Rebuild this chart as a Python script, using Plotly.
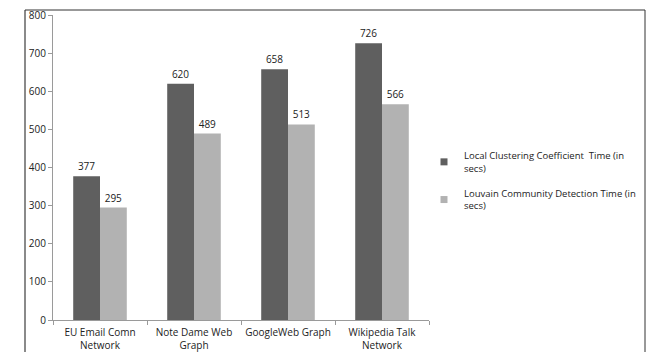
import plotly.graph_objects as go

categories = ["EU Email Comn<br>Network", "Note Dame Web<br>Graph", "GoogleWeb Graph", "Wikipedia Talk<br>Network"]
lcc_time = [377, 620, 658, 726]
louvain_time = [295, 489, 513, 566]
series_names = ["Local Clustering Coefficient  Time (in<br>secs)",
                "Louvain Community Detection Time (in<br>secs)"]
series_colors = ["#5f5f5f", "#b2b2b2"]
y_ticks = [0, 100, 200, 300, 400, 500, 600, 700, 800]

W, H = 652, 352
ML, MR, MT, MB = 53, 223, 15, 32
pw, ph = W - ML - MR, H - MT - MB

def px_x(x):
    return (x - ML) / pw

def px_y(y):
    return (H - MB - y) / ph

FONT = "Open Sans"
TXT = "#222222"
fig = go.Figure()
for vals, name, col in zip([lcc_time, louvain_time], series_names, series_colors):
    fig.add_trace(go.Bar(x=categories, y=vals, name=name, showlegend=False,
                         marker=dict(color=col, line=dict(width=0)),
                         text=vals, textposition="outside",
                         textfont=dict(size=10, color=TXT, family=FONT),
                         cliponaxis=False))
# Legend entries with small square swatches
for i, (name, col) in enumerate(zip(series_names, series_colors)):
    fig.add_trace(go.Scatter(x=[None], y=[None], mode="markers", name=name,
                             legendgroup=f"g{i}",
                             marker=dict(symbol="square", size=7, color=col)))

fig.update_layout(
    width=W, height=H,
    margin=dict(l=ML, r=MR, t=MT, b=MB, autoexpand=False),
    paper_bgcolor="white", plot_bgcolor="white",
    barmode="group", bargap=0.43, bargroupgap=0,
    font=dict(family=FONT, size=10, color=TXT),
    showlegend=True,
    legend=dict(x=px_x(424), y=px_y(143), xanchor="left", yanchor="top",
                font=dict(size=9.5, family=FONT, color=TXT),
                tracegroupgap=10, itemwidth=30, bgcolor="rgba(0,0,0,0)",
                traceorder="grouped"),
    xaxis=dict(showline=True, linecolor="#9a9a9a", linewidth=1, automargin=False,
               tickangle=0, ticklabelstandoff=3,
               ticks="outside", tickson="boundaries", ticklen=4, tickcolor="#9a9a9a",
               showgrid=False, tickfont=dict(size=10, family=FONT, color=TXT)),
    yaxis=dict(range=[0, 800], tickvals=y_ticks, showline=True, linecolor="#9a9a9a",
               linewidth=1, ticks="outside", ticklen=4, tickcolor="#9a9a9a",
               showgrid=False, zeroline=False, automargin=False,
               tickfont=dict(size=10, family=FONT, color=TXT)),
)

# Chart frame around the whole figure area
fig.add_shape(type="line", xref="paper", yref="paper",
              x0=px_x(25), x1=px_x(25), y0=px_y(10), y1=px_y(360),
              line=dict(color="#8a8a8a", width=2))
fig.add_shape(type="line", xref="paper", yref="paper",
              x0=px_x(25), x1=px_x(645), y0=px_y(10), y1=px_y(10),
              line=dict(color="#333333", width=1))
fig.add_shape(type="line", xref="paper", yref="paper",
              x0=px_x(645), x1=px_x(645), y0=px_y(10), y1=px_y(360),
              line=dict(color="#333333", width=1))

fig.write_html("out.html")
